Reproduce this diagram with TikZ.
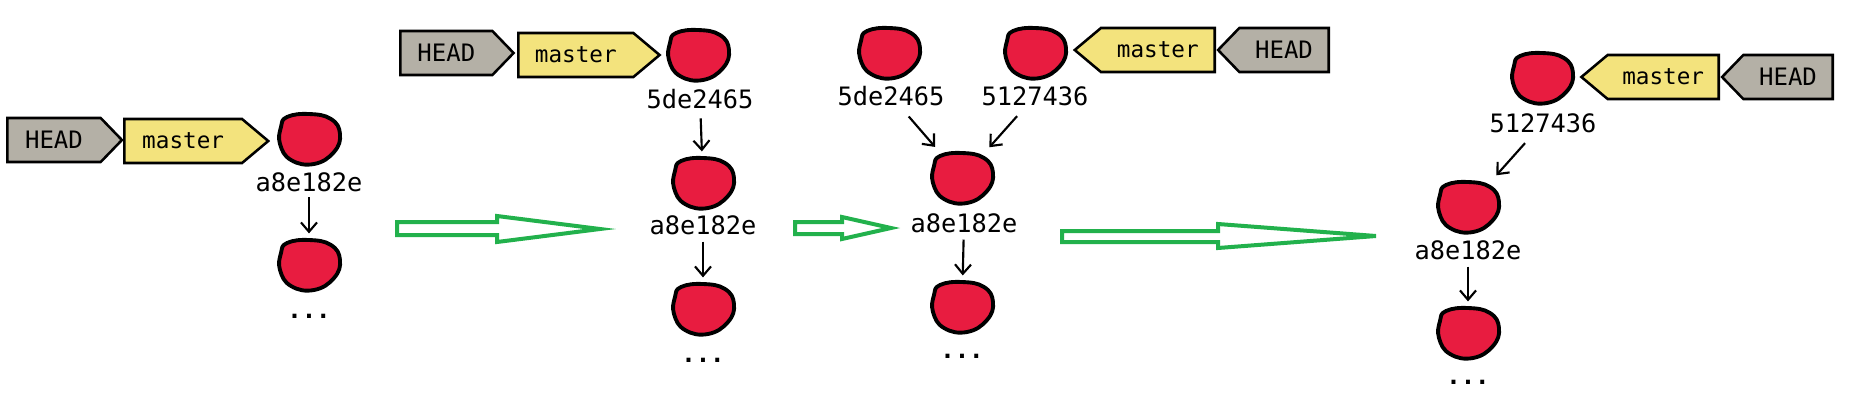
\documentclass[tikz,border=0pt]{standalone}
\usepackage{fontspec}
\setmonofont{DejaVu Sans Mono}
\usetikzlibrary{shapes.symbols,shapes.geometric,arrows.meta}
\definecolor{commitred}{RGB}{232,28,64}
\definecolor{tagyellow}{RGB}{243,227,125}
\definecolor{taggray}{RGB}{180,176,166}
\definecolor{paintgreen}{RGB}{34,177,76}
\newcommand\blobat[1]{%
  \begin{scope}[shift={(#1)}]
    \draw[blob] plot[smooth cycle, tension=0.75] coordinates
      {(-22,-22) (0,-25) (22,-20) (31,-5) (25,13) (5,25) (-18,21) (-29,5) (-28,-12)};
  \end{scope}}
\begin{document}
\begin{tikzpicture}[x=0.75pt,y=-0.75pt,
  commit/.style={ellipse, minimum width=45pt, minimum height=39pt, inner sep=0pt},
  blob/.style={fill=commitred, draw=black, line width=2.9pt, line join=round},
  tag/.style={signal, draw=black, line width=1.9pt, inner sep=0pt, minimum height=33pt},
  headtag/.style={tag, fill=taggray, signal pointer angle=92,
    font=\ttfamily\fontsize{18}{18}\selectfont},
  mastertag/.style={tag, fill=tagyellow, signal pointer angle=80,
    font=\ttfamily\fontsize{17}{17}\selectfont},
  lbl/.style={font=\ttfamily\fontsize{19}{19}\selectfont, inner sep=1pt},
  dots/.style={font=\ttfamily\bfseries\fontsize{18}{18}\selectfont, inner sep=0pt, anchor=base},
  conn/.style={-{Straight Barb[length=7pt,width=12pt]}, line width=1.6pt,
    shorten <=4pt, shorten >=4pt},
  bigarrow/.style={draw=paintgreen, line width=3pt, line join=miter}]
\useasboundingbox (0,0) rectangle (1861,401);

% ---------- panel 1
\node[headtag, signal to=east, anchor=west, minimum width=86pt] (h1) at (6,140) {HEAD};
\node[mastertag, signal to=east, anchor=west, minimum width=108pt] (m1) at (123,141) {master};
\node[commit] (c1) at (309,139) {};
\node[lbl] (l1) at (309,182) {a8e182e};
\node[commit] (c2) at (309,265) {};
\node[dots] (d1) at (309,318) {...};

% ---------- panel 2
\node[headtag, signal to=east, anchor=west, minimum width=85pt] (h2) at (399,53) {HEAD};
\node[mastertag, signal to=east, anchor=west, minimum width=106pt] (m2) at (517,55) {master};
\node[commit] (c3) at (698,55) {};
\node[lbl] (l3) at (700,99) {5de2465};
\node[commit] (c4) at (703,183) {};
\node[lbl] (l4) at (703,225) {a8e182e};
\node[commit] (c5) at (703,309) {};
\node[dots] (d2) at (703,362) {...};

% ---------- panel 3
\node[commit] (c6) at (889,53) {};
\node[lbl] (l6) at (891,96) {5de2465};
\node[commit] (c7) at (1035,53) {};
\node[lbl] (l7) at (1035,96) {5127436};
\node[mastertag, signal to=west, anchor=east, minimum width=105pt] (m3) at (1216,50) {master};
\node[headtag, signal to=west, anchor=east, minimum width=83pt] (h3) at (1330,50) {HEAD};
\node[commit] (c8) at (962,178) {};
\node[lbl] (l8) at (964,223) {a8e182e};
\node[commit] (c9) at (962,307) {};
\node[dots] (d3) at (962,358) {...};

% ---------- panel 4
\node[commit] (c10) at (1542,78) {};
\node[lbl] (l10) at (1543,123) {5127436};
\node[mastertag, signal to=west, anchor=east, minimum width=103pt] (m4) at (1720,77) {master};
\node[headtag, signal to=west, anchor=east, minimum width=83pt] (h4) at (1834,77) {HEAD};
\node[commit] (c11) at (1468,207) {};
\node[lbl] (l11) at (1468,250) {a8e182e};
\node[commit] (c12) at (1468,333) {};
\node[dots] (d4) at (1468,384) {...};

% blobs
\foreach \n in {c1,c2,c3,c4,c5,c6,c7,c8,c9,c10,c11,c12} {\blobat{\n}}

% connectors
\draw[conn, shorten <=3pt] (l1) -- (c2);
\draw[conn, shorten <=6pt] (l3) -- (c4);
\draw[conn] (l4) -- (c5);
\draw[conn, shorten <=9pt, shorten >=10pt] (l6) -- (c8);
\draw[conn, shorten <=9pt, shorten >=10pt] (l7) -- (c8);
\draw[conn] (l8) -- (c9);
\draw[conn, shorten <=9pt, shorten >=11pt] (l10) -- (c11);
\draw[conn] (l11) -- (c12);

% green transition arrows
\draw[bigarrow] (397,222) -- (497,222) -- (497,216) -- (600,229) -- (497,242) -- (497,235) -- (397,235) -- cycle;
\draw[bigarrow] (795,222) -- (842,222) -- (842,217) -- (891,228) -- (842,239) -- (842,234) -- (795,234) -- cycle;
\draw[bigarrow] (1062,231) -- (1218,231) -- (1218,224) -- (1376,236) -- (1218,248) -- (1218,242) -- (1062,242) -- cycle;
\end{tikzpicture}
\end{document}
